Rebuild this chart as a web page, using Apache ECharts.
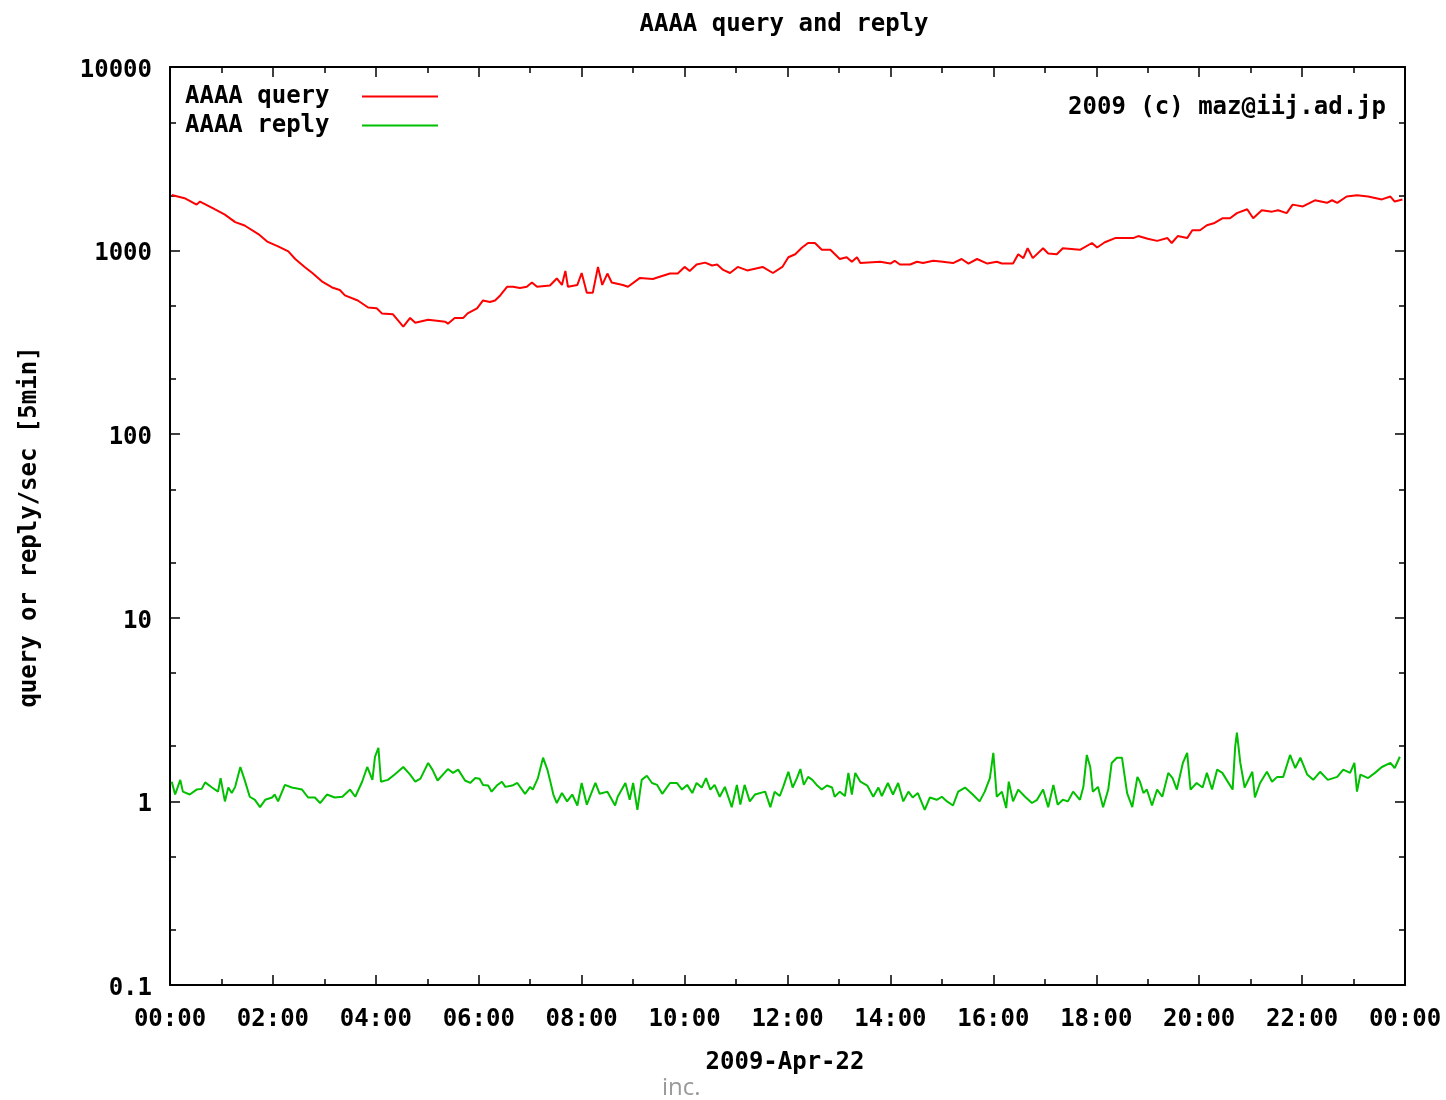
<!DOCTYPE html>
<html>
<head>
<meta charset="utf-8">
<script src="https://cdn.jsdelivr.net/npm/echarts@6/dist/echarts.min.js"></script>
<style>html,body{margin:0;padding:0;background:#fff}#c{width:1446px;height:1100px}</style>
</head>
<body>
<div id="c"></div>
<script>
// minutes since 00:00
const redTimes = [
  2,17,31,35,52,64,76,87,103,114,
  126,138,146,157,166,178,189,198,204,219,
  231,241,247,260,272,280,286,301,321,324,
  332,342,347,358,365,373,379,385,393,400,
  408,416,422,428,443,451,457,461,464,475,
  480,486,493,499,504,510,515,528,534,548,
  563,571,583,592,600,606,614,624,632,638,
  645,653,662,673,691,703,714,721,729,737,
  744,752,760,770,781,789,795,801,805,828,
  840,845,851,863,871,878,890,901,913,923,
  931,941,953,964,970,983,989,995,1000,1006,
  1018,1024,1034,1041,1061,1075,1081,1090,1102,1123,
  1129,1140,1151,1163,1168,1175,1186,1192,1201,1209,
  1218,1227,1236,1244,1256,1263,1273,1285,1292,1302,
  1309,1321,1335,1349,1355,1361,1372,1384,1397,1413,
  1423,1428,1437
];
const redValues = [
  2010,1930,1780,1850,1680,1570,1430,1370,1230,1115,
  1055,990,900,815,755,675,630,610,570,535,
  490,485,455,450,385,430,405,420,410,400,
  430,430,455,485,535,525,535,570,635,635,
  625,635,670,635,645,705,650,775,635,650,
  755,590,590,815,650,750,670,650,635,710,
  700,720,750,750,815,775,840,860,830,840,
  785,755,815,780,815,755,815,920,955,1040,
  1100,1100,1010,1010,900,920,870,920,855,870,
  850,880,840,840,870,855,880,870,855,900,
  850,900,850,870,850,850,955,910,1030,910,
  1030,965,955,1030,1010,1100,1040,1110,1170,1170,
  1200,1160,1130,1170,1100,1200,1170,1290,1290,1375,
  1415,1500,1500,1600,1680,1500,1660,1630,1660,1600,
  1780,1740,1880,1820,1880,1820,1970,2000,1970,1900,
  1970,1850,1900
];
const greenTimes = [
  2,6,12,15,23,31,37,41,49,56,
  59,64,68,72,76,82,87,93,99,105,
  111,119,122,126,134,142,154,161,169,175,
  183,192,201,210,216,224,230,236,239,243,
  246,254,262,272,280,286,292,301,306,312,
  324,330,336,344,350,356,361,365,371,375,
  381,387,391,399,405,414,420,423,429,435,
  440,443,447,451,457,463,469,475,480,486,
  496,501,510,519,522,531,536,540,545,550,
  556,562,568,574,583,591,597,603,609,614,
  620,625,630,635,641,647,655,661,665,670,
  676,682,694,700,705,711,715,721,726,731,
  735,739,744,749,754,760,766,772,775,781,
  787,791,795,799,805,813,820,826,830,837,
  843,849,855,861,866,872,880,886,894,900,
  906,913,919,927,936,944,950,956,960,964,
  970,975,978,983,989,997,1005,1011,1018,1024,
  1030,1035,1041,1047,1053,1061,1065,1069,1073,1076,
  1082,1088,1094,1098,1104,1110,1116,1122,1128,1131,
  1135,1139,1145,1151,1157,1164,1169,1174,1181,1186,
  1190,1197,1204,1209,1215,1221,1227,1232,1239,1242,
  1244,1248,1253,1262,1265,1271,1279,1285,1291,1298,
  1306,1312,1318,1326,1333,1341,1350,1361,1368,1376,
  1381,1384,1388,1397,1405,1413,1423,1428,1434
];
const greenValues = [
  1.28,1.09,1.31,1.13,1.09,1.16,1.17,1.27,1.19,1.13,
  1.34,1.0,1.19,1.11,1.2,1.54,1.31,1.06,1.02,0.93,
  1.02,1.05,1.09,1.0,1.23,1.19,1.16,1.05,1.05,0.98,
  1.09,1.05,1.06,1.16,1.06,1.28,1.54,1.31,1.75,1.96,
  1.28,1.31,1.40,1.54,1.40,1.28,1.33,1.62,1.49,1.30,
  1.50,1.43,1.49,1.30,1.26,1.34,1.33,1.23,1.22,1.13,
  1.22,1.28,1.20,1.22,1.26,1.10,1.20,1.16,1.34,1.73,
  1.49,1.31,1.09,0.98,1.11,1.0,1.09,0.95,1.26,0.96,
  1.26,1.10,1.13,0.95,1.06,1.26,1.02,1.26,0.90,1.31,
  1.38,1.26,1.23,1.10,1.26,1.26,1.16,1.23,1.11,1.26,
  1.19,1.34,1.16,1.23,1.06,1.20,0.93,1.23,0.96,1.23,
  1.0,1.09,1.13,0.93,1.13,1.07,1.20,1.45,1.19,1.34,
  1.50,1.23,1.36,1.31,1.23,1.16,1.22,1.19,1.06,1.13,
  1.07,1.43,1.09,1.43,1.28,1.22,1.06,1.19,1.07,1.26,
  1.09,1.26,1.0,1.13,1.05,1.11,0.90,1.05,1.02,1.06,
  1.0,0.95,1.13,1.19,1.09,1.0,1.13,1.34,1.84,1.06,
  1.13,0.92,1.28,1.0,1.16,1.06,0.98,1.02,1.16,0.93,
  1.23,0.96,1.02,1.0,1.13,1.02,1.20,1.79,1.54,1.13,
  1.20,0.93,1.16,1.62,1.73,1.73,1.11,0.93,1.36,1.28,
  1.11,1.16,0.95,1.16,1.06,1.43,1.34,1.16,1.62,1.84,
  1.16,1.26,1.19,1.43,1.16,1.49,1.43,1.31,1.16,1.99,
  2.37,1.62,1.19,1.45,1.05,1.26,1.45,1.28,1.36,1.36,
  1.79,1.52,1.73,1.40,1.31,1.45,1.31,1.36,1.49,1.43,
  1.62,1.13,1.40,1.34,1.43,1.54,1.62,1.52,1.75
];
const minorTickValues = [0.2,0.5,2,5,20,50,200,500,2000,5000];
const seriesNames = ['AAAA query', 'AAAA reply'];

const FONT = 'DejaVu Sans Mono';
const FS = 24;
const BOLD = 'bold ' + FS + 'px "' + FONT + '"';
const redData = redTimes.map((t, i) => [t, redValues[i]]);
const greenData = greenTimes.map((t, i) => [t, greenValues[i]]);

const axisLineStyle = { color: '#000', width: 2 };
const tickLine = { color: '#000', width: 1.5 };
const labelStyle = { fontFamily: FONT, fontWeight: 'bold', fontSize: FS, color: '#000' };

function xAxisCfg(pos, showLabel) {
  return {
    type: 'value', min: 0, max: 1440, interval: 120, position: pos,
    axisLine: { show: true, onZero: false, lineStyle: axisLineStyle },
    axisTick: { show: true, inside: true, length: 10, lineStyle: tickLine },
    minorTick: { show: true, splitNumber: 2, length: 6, lineStyle: tickLine },
    splitLine: { show: false }, minorSplitLine: { show: false },
    axisLabel: Object.assign({
      show: showLabel, margin: 23, showMaxLabel: true, showMinLabel: true, hideOverlap: false,
      formatter: v => { const h = Math.round(v / 60) % 24; return (h < 10 ? '0' : '') + h + ':00'; }
    }, labelStyle)
  };
}
function yAxisCfg(pos, major, showLabel) {
  const a = {
    type: 'log', logBase: 10, min: 0.1, max: 10000, splitNumber: 5, position: pos,
    axisLine: { show: major, onZero: false, lineStyle: axisLineStyle },
    splitLine: { show: false },
    axisLabel: Object.assign({
      show: showLabel, margin: 18,
      formatter: v => '{t|' + String(Number(Number(v).toPrecision(4))) + '}',
      rich: { t: Object.assign({ padding: [7, 0, 0, 0] }, labelStyle) }
    }, labelStyle)
  };
  if (major) {
    a.axisTick = { show: true, inside: true, length: 10, lineStyle: tickLine };
  } else {
    a.axisTick = { show: true, inside: true, length: 6, lineStyle: tickLine, customValues: minorTickValues };
  }
  return a;
}

const chart = echarts.init(document.getElementById('c'), null, { renderer: 'canvas' });
chart.setOption({
  backgroundColor: '#fff',
  animation: false,
  grid: { left: 170, right: 41, top: 67, bottom: 115, containLabel: false },
  legend: {
    data: seriesNames,
    orient: 'vertical', left: 180, top: 77, align: 'right',
    icon: 'rect', itemWidth: 76, itemHeight: 2, itemGap: 0,
    formatter: name => '{t|' + name + '}',
    textStyle: Object.assign({
      lineHeight: 29,
      rich: { t: Object.assign({ width: 172, align: 'left', lineHeight: 29 }, labelStyle) }
    }, labelStyle)
  },
  xAxis: [xAxisCfg('bottom', true), xAxisCfg('top', false)],
  yAxis: [
    yAxisCfg('left', true, true),
    yAxisCfg('left', false, false),
    yAxisCfg('right', true, false),
    yAxisCfg('right', false, false)
  ],
  series: [
    { name: seriesNames[0], type: 'line', data: redData, showSymbol: false, symbol: 'none',
      lineStyle: { color: '#ff0000', width: 2 }, itemStyle: { color: '#ff0000' }, xAxisIndex: 0, yAxisIndex: 0 },
    { name: seriesNames[1], type: 'line', data: greenData, showSymbol: false, symbol: 'none',
      lineStyle: { color: '#00c000', width: 2 }, itemStyle: { color: '#00c000' }, xAxisIndex: 0, yAxisIndex: 0 }
  ],
  graphic: [
    { type: 'text', x: 784, y: 25, style: { text: 'AAAA query and reply', align: 'center', verticalAlign: 'middle', font: BOLD, fill: '#000' } },
    { type: 'text', x: 1386, y: 108, style: { text: '2009 (c) maz@iij.ad.jp', align: 'right', verticalAlign: 'middle', font: BOLD, fill: '#000' } },
    { type: 'text', x: 30, y: 527, rotation: Math.PI / 2, style: { text: 'query or reply/sec [5min]', align: 'center', verticalAlign: 'middle', font: BOLD, fill: '#000' } },
    { type: 'text', x: 785, y: 1063, style: { text: '2009-Apr-22', align: 'center', verticalAlign: 'middle', font: BOLD, fill: '#000' } },
    { type: 'text', x: 662, y: 1088, style: { text: 'inc.', align: 'left', verticalAlign: 'middle', font: '24px "Open Sans"', fill: '#999' } }
  ]
});
</script>
</body>
</html>
